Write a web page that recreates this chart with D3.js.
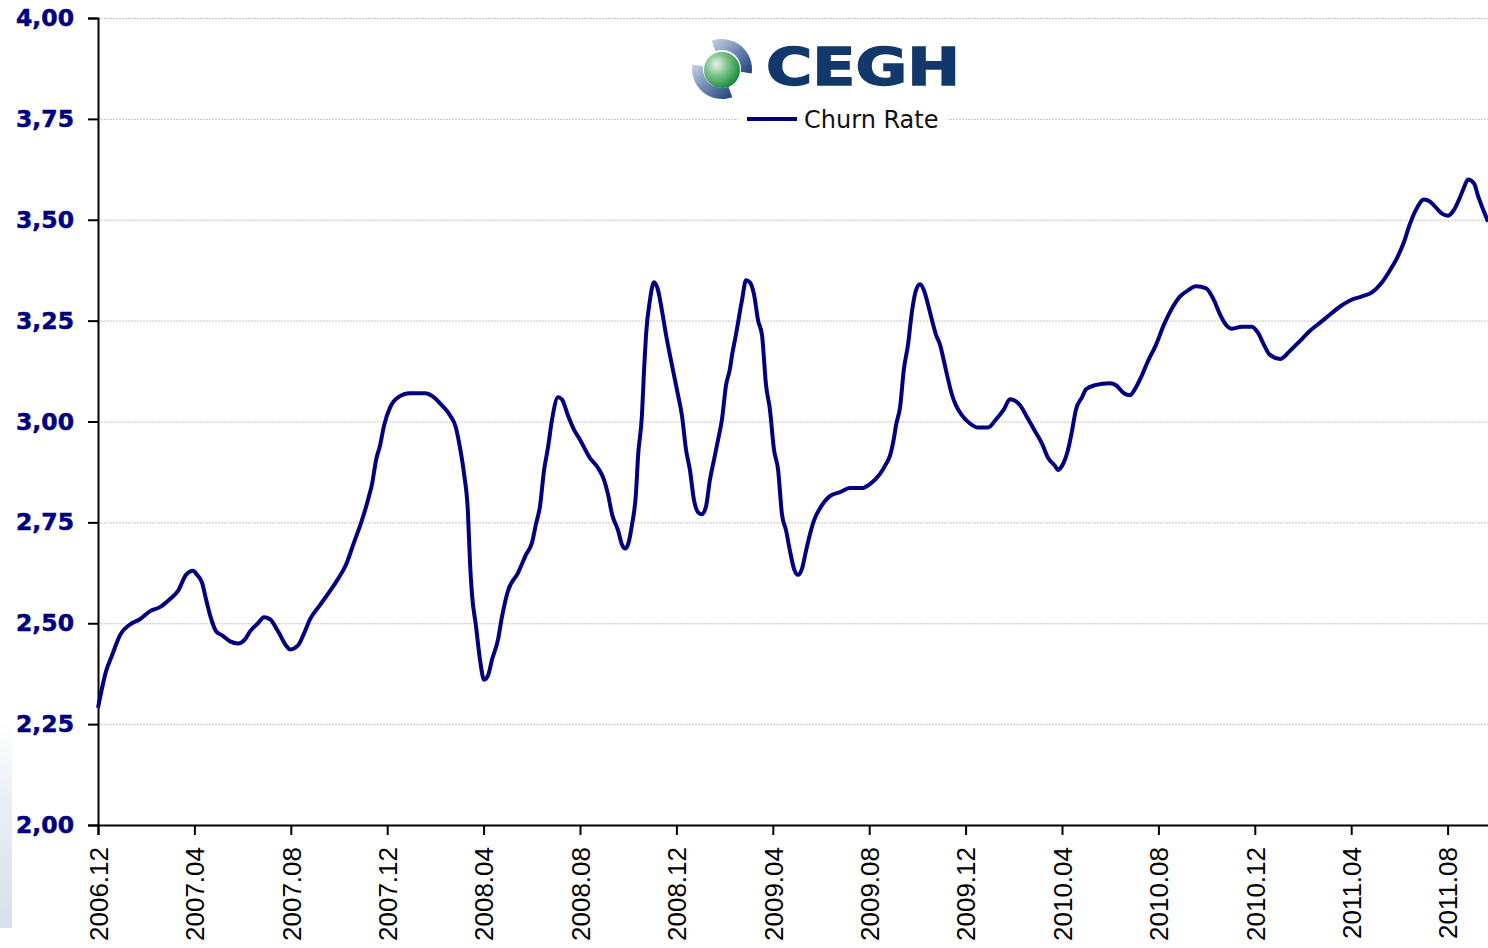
<!DOCTYPE html>
<html>
<head>
<meta charset="utf-8">
<script src="https://cdn.jsdelivr.net/npm/d3@7"></script>
<style>
	body { margin: 0; background: #fff; }
	svg { display: block; }
</style>
</head>
<body>
<svg width="1488" height="948"></svg>
<script>
// months since 2006.12 and churn rate
var months = [0, 0.33, 0.58, 0.91, 1.41, 1.74, 2.16, 2.57, 2.99, 3.32, 3.65, 3.94, 4.11, 4.32, 4.48, 4.65, 4.9, 5.15, 5.48, 5.81,
	6.1, 6.31, 6.64, 6.89, 7.14, 7.47, 7.8, 7.97, 8.3, 8.55, 8.8, 9.21, 9.63, 9.96, 10.29, 10.62, 10.95, 11.2, 11.37, 11.54,
	11.7, 11.87, 12.12, 12.45, 12.95, 13.57, 13.94, 14.27, 14.61, 14.85, 15.02, 15.19, 15.35, 15.44, 15.52, 15.68, 15.85, 16.02, 16.18, 16.35,
	16.6, 16.76, 17.01, 17.43, 17.76, 18.01, 18.17, 18.34, 18.51, 18.67, 18.84, 19.09, 19.25, 19.5, 19.75, 20, 20.41, 20.75, 21, 21.16,
	21.33, 21.58, 21.74, 21.87, 21.99, 22.16, 22.32, 22.41, 22.57, 22.66, 22.74, 22.9, 23.07, 23.24, 23.4, 23.57, 23.73, 23.9, 24.07, 24.23,
	24.4, 24.56, 24.73, 24.9, 25.06, 25.23, 25.39, 25.56, 25.73, 25.89, 26.06, 26.22, 26.31, 26.47, 26.72, 26.89, 27.05, 27.22, 27.39, 27.55,
	27.72, 27.88, 28.05, 28.22, 28.38, 28.55, 28.71, 28.88, 29.05, 29.21, 29.38, 29.54, 29.71, 29.96, 30.37, 30.79, 31.2, 31.7, 32.03, 32.45,
	32.7, 32.86, 33.03, 33.11, 33.28, 33.44, 33.61, 33.78, 33.94, 34.11, 34.27, 34.44, 34.61, 34.77, 34.94, 35.1, 35.27, 35.44, 35.6, 35.85,
	36.18, 36.51, 36.93, 37.26, 37.59, 37.84, 38.09, 38.26, 38.51, 38.84, 39.17, 39.42, 39.71, 39.83, 40, 40.25, 40.41, 40.58, 40.83, 41,
	41.37, 41.99, 42.24, 42.57, 42.82, 43.07, 43.32, 43.57, 43.9, 44.23, 44.56, 44.9, 45.23, 45.56, 45.98, 46.31, 46.56, 46.8, 47.05, 47.47,
	47.88, 48.13, 48.38, 48.63, 49.05, 49.46, 49.88, 50.29, 50.71, 51.12, 51.54, 51.95, 52.45, 52.86, 53.28, 53.61, 53.94, 54.19, 54.44, 54.69,
	55.02, 55.27, 55.52, 55.77, 56.02, 56.27, 56.51, 56.68, 56.85, 57.1, 57.26, 57.51, 57.68];

var churnRate = [2.29, 2.38, 2.42, 2.47, 2.5, 2.51, 2.53, 2.54, 2.56, 2.58, 2.62, 2.63, 2.62, 2.6, 2.56, 2.52, 2.48, 2.47, 2.455, 2.45,
	2.46, 2.48, 2.5, 2.515, 2.51, 2.48, 2.445, 2.435, 2.445, 2.475, 2.51, 2.545, 2.58, 2.61, 2.645, 2.7, 2.755, 2.805, 2.845, 2.905,
	2.94, 2.99, 3.035, 3.06, 3.07, 3.07, 3.06, 3.04, 3.015, 2.985, 2.935, 2.87, 2.775, 2.645, 2.57, 2.495, 2.41, 2.36, 2.37, 2.41,
	2.46, 2.515, 2.58, 2.625, 2.67, 2.7, 2.745, 2.79, 2.88, 2.935, 3.005, 3.06, 3.055, 3.015, 2.98, 2.955, 2.91, 2.885, 2.855, 2.82,
	2.77, 2.73, 2.695, 2.685, 2.695, 2.745, 2.82, 2.915, 3.015, 3.13, 3.215, 3.3, 3.345, 3.325, 3.275, 3.215, 3.165, 3.115, 3.065, 3.015,
	2.93, 2.88, 2.805, 2.775, 2.77, 2.79, 2.855, 2.905, 2.955, 3.005, 3.09, 3.13, 3.165, 3.215, 3.3, 3.35, 3.345, 3.315, 3.25, 3.215,
	3.09, 3.03, 2.93, 2.88, 2.77, 2.73, 2.68, 2.635, 2.62, 2.635, 2.68, 2.72, 2.755, 2.785, 2.815, 2.825, 2.835, 2.835, 2.845, 2.87,
	2.895, 2.915, 2.96, 2.99, 3.035, 3.13, 3.19, 3.275, 3.325, 3.34, 3.325, 3.29, 3.25, 3.215, 3.19, 3.15, 3.105, 3.065, 3.04, 3.015,
	2.995, 2.985, 2.985, 3.005, 3.03, 3.055, 3.05, 3.04, 3.015, 2.98, 2.945, 2.91, 2.89, 2.88, 2.89, 2.93, 2.975, 3.03, 3.06, 3.08,
	3.09, 3.095, 3.09, 3.07, 3.065, 3.085, 3.115, 3.15, 3.19, 3.24, 3.28, 3.31, 3.325, 3.335, 3.33, 3.3, 3.265, 3.24, 3.23, 3.235,
	3.235, 3.22, 3.19, 3.165, 3.155, 3.175, 3.2, 3.225, 3.245, 3.265, 3.285, 3.3, 3.31, 3.32, 3.345, 3.375, 3.41, 3.445, 3.49, 3.525,
	3.55, 3.545, 3.53, 3.515, 3.51, 3.525, 3.555, 3.58, 3.6, 3.59, 3.56, 3.52, 3.495];

var tickMonths = [0, 4, 8, 12, 16, 20, 24, 28, 32, 36, 40, 44, 48, 52, 56];
var tickLabels = ['2006.12', '2007.04', '2007.08', '2007.12', '2008.04', '2008.08', '2008.12', '2009.04',
	'2009.08', '2009.12', '2010.04', '2010.08', '2010.12', '2011.04', '2011.08'];
var yTicks = [2, 2.25, 2.5, 2.75, 3, 3.25, 3.5, 3.75, 4];

var svg = d3.select("svg"),
	width = +svg.attr("width"),
	height = +svg.attr("height");

var plotLeft = 98, plotTop = 18, plotBottom = 825;

var x = d3.scaleLinear().domain([0, 60]).range([plotLeft, plotLeft + 60 * 24.1]);
var y = d3.scaleLinear().domain([2, 4]).range([plotBottom, plotTop]);

var defs = svg.append("defs");

// faint background picture at lower left of the slide
var bg = defs.append("linearGradient").attr("id", "bgfade").attr("x1", 0).attr("y1", 0).attr("x2", 0).attr("y2", 1);
bg.append("stop").attr("offset", "0%").attr("stop-color", "#ffffff");
bg.append("stop").attr("offset", "40%").attr("stop-color", "#eaeef4");
bg.append("stop").attr("offset", "100%").attr("stop-color", "#d9dfe9");
svg.append("rect").attr("x", 0).attr("y", 720).attr("width", 12).attr("height", 208).attr("fill", "url(#bgfade)");

// gridlines
svg.append("g")
	.selectAll("line")
	.data(yTicks.filter(function(d) { return d > 2; }))
	.enter().append("line")
		.attr("x1", plotLeft).attr("x2", width)
		.attr("y1", function(d) { return y(d) + 0.5; })
		.attr("y2", function(d) { return y(d) + 0.5; })
		.attr("stroke", "#c4c4c4")
		.attr("stroke-width", 1)
		.attr("stroke-dasharray", "2,1");

// y axis
var yAxis = svg.append("g")
	.attr("transform", "translate(" + plotLeft + ",0)")
	.call(d3.axisLeft(y).tickValues(yTicks).tickSize(10).tickPadding(14)
		.tickFormat(function(d) { return d3.format(".2f")(d).replace(".", ","); }));
yAxis.select(".domain").attr("stroke", "#000").attr("stroke-width", 2);
yAxis.selectAll(".tick line").attr("stroke", "#000").attr("stroke-width", 2);
yAxis.selectAll(".tick text")
	.attr("fill", "#000080")
	.attr("stroke", "#000080")
	.attr("stroke-width", 0.5)
	.attr("font-family", "DejaVu Sans, Verdana, sans-serif")
	.attr("font-weight", "bold")
	.attr("font-size", "23.5px");

// x axis
var xAxis = svg.append("g")
	.attr("transform", "translate(0," + plotBottom + ")")
	.call(d3.axisBottom(x).tickValues(tickMonths).tickSize(10)
		.tickFormat(function(d, i) { return tickLabels[i]; }));
xAxis.select(".domain").attr("stroke", "#000").attr("stroke-width", 2);
xAxis.selectAll(".tick line").attr("stroke", "#000").attr("stroke-width", 2);
xAxis.selectAll(".tick text")
	.attr("fill", "#000")
	.attr("font-family", "Liberation Sans, Arial, sans-serif")
	.attr("font-size", "26px")
	.attr("text-anchor", "end")
	.attr("transform", "rotate(-90)")
	.attr("x", -22)
	.attr("y", 0)
	.attr("dy", "0.36em");

// churn rate line
var data = months.map(function(m, i) { return { m: m, v: churnRate[i] }; });
var line = d3.line()
	.x(function(d) { return x(d.m); })
	.y(function(d) { return y(d.v); })
	.curve(d3.curveMonotoneX);

svg.append("path")
	.datum(data)
	.attr("fill", "none")
	.attr("stroke", "#000080")
	.attr("stroke-width", 4)
	.attr("stroke-linejoin", "round")
	.attr("d", line);

// legend
var legend = svg.append("g");
legend.append("rect").attr("x", 738).attr("y", 104).attr("width", 210).attr("height", 30).attr("fill", "#fff");
legend.append("line")
	.attr("x1", 747).attr("x2", 797).attr("y1", 119).attr("y2", 119)
	.attr("stroke", "#000080").attr("stroke-width", 4);
legend.append("text")
	.attr("x", 804).attr("y", 128)
	.attr("font-family", "DejaVu Sans, Verdana, sans-serif")
	.attr("font-size", "24px")
	.attr("fill", "#111")
	.text("Churn Rate");

// CEGH logo
var green = defs.append("radialGradient").attr("id", "ball").attr("cx", "35%").attr("cy", "35%").attr("r", "70%");
green.append("stop").attr("offset", "0%").attr("stop-color", "#e8f3ea");
green.append("stop").attr("offset", "45%").attr("stop-color", "#7cc38a");
green.append("stop").attr("offset", "100%").attr("stop-color", "#138a3a");
var ring = defs.append("linearGradient").attr("id", "ring").attr("x1", 0).attr("y1", 0).attr("x2", 1).attr("y2", 1);
ring.append("stop").attr("offset", "0%").attr("stop-color", "#c8d3e6");
ring.append("stop").attr("offset", "50%").attr("stop-color", "#6f86b3");
ring.append("stop").attr("offset", "100%").attr("stop-color", "#1d3f78");

var logo = svg.append("g").attr("transform", "translate(722,69)");
var arc = d3.arc().innerRadius(19).outerRadius(30);
logo.append("path")
	.attr("d", arc({ startAngle: -0.35, endAngle: Math.PI / 2 + 0.15 }))
	.attr("fill", "url(#ring)");
logo.append("path")
	.attr("d", arc({ startAngle: Math.PI - 0.35, endAngle: 1.5 * Math.PI + 0.15 }))
	.attr("fill", "url(#ring)");
logo.append("circle").attr("cx", 0).attr("cy", 1).attr("r", 18).attr("fill", "url(#ball)");

svg.append("text")
	.attr("x", 766).attr("y", 85)
	.attr("font-family", "DejaVu Sans, Verdana, sans-serif")
	.attr("font-weight", "bold")
	.attr("font-size", "51px")
	.attr("fill", "#12386b")
	.attr("stroke", "#12386b")
	.attr("stroke-width", 1.5)
	.attr("textLength", 194)
	.attr("lengthAdjust", "spacingAndGlyphs")
	.text("CEGH");
</script>
</body>
</html>
